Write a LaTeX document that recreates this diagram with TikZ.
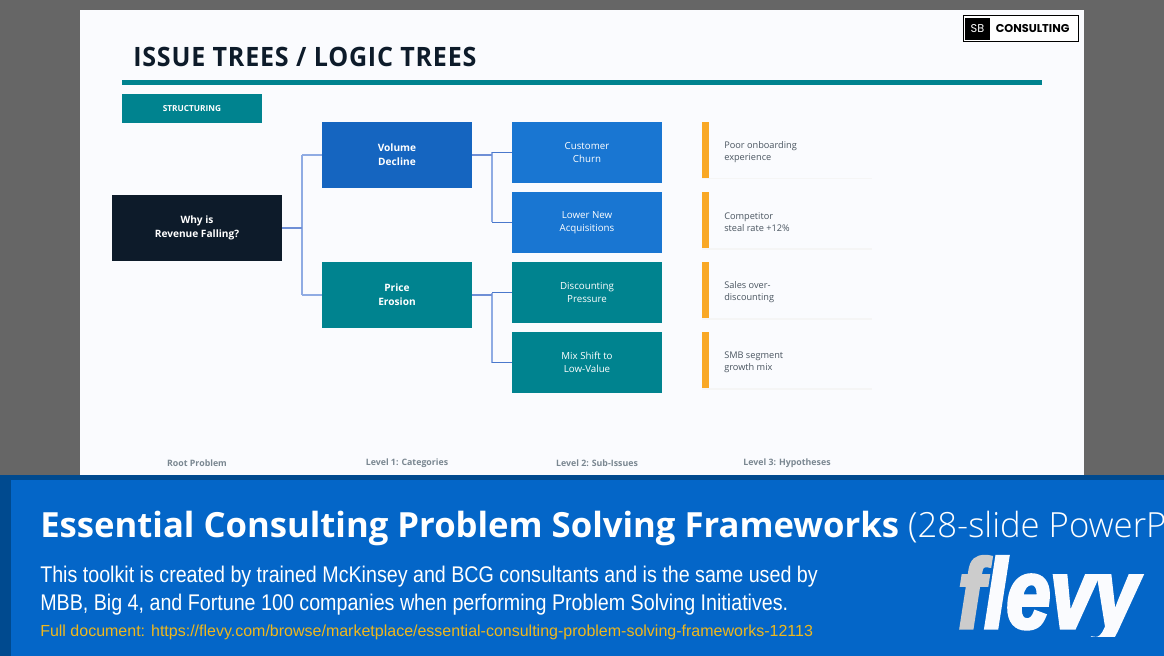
\documentclass[tikz,border=0pt]{standalone}
\usepackage{fontspec}
\setmainfont{Open Sans}
\newfontfamily\lightfont{Open Sans Light}
\newfontfamily\titlefont[FakeStretch=0.94,LetterSpace=3]{Open Sans Bold}
\newfontfamily\bannerfont[FakeStretch=0.868]{Liberation Sans}
\newfontfamily\urlfont{Liberation Sans}
\newfontfamily\logofont[FakeStretch=0.8,FakeBold=3.5]{Liberation Sans Bold Italic}
\newfontfamily\markfont{Poppins}
\definecolor{backgrey}{HTML}{666666}
\definecolor{slidewhite}{HTML}{FAFBFE}
\definecolor{inkdark}{HTML}{0D1B2A}
\definecolor{tealbox}{HTML}{00838F}
\definecolor{volblue}{HTML}{1565C0}
\definecolor{subblue}{HTML}{1976D2}
\definecolor{barorange}{HTML}{F9A825}
\definecolor{cardgrey}{HTML}{4A5560}
\definecolor{footgrey}{HTML}{7A8791}
\definecolor{bannerblue}{HTML}{0466C8}
\definecolor{bannerdark}{HTML}{004A8F}
\definecolor{urlgold}{HTML}{EFB71C}
\definecolor{stubblue}{HTML}{6F8FD6}
\definecolor{spineblue}{HTML}{8FABE3}
\definecolor{branchblue}{HTML}{4A78CC}
\tikzset{
    rootbox/.style={fill=inkdark, text=white, font=\fontsize{7.6}{10.5}\selectfont\bfseries, align=center,
        execute at begin node={\mbox{}\\[-7.5pt]},
        minimum width=127.5pt, minimum height=49.5pt, inner sep=0pt, outer sep=0pt},
    catbox/.style={fill=#1, text=white, font=\fontsize{7.6}{10.5}\selectfont\bfseries, align=center,
        execute at begin node={\mbox{}\\[-9pt]},
        minimum width=112.5pt, minimum height=49.5pt, inner sep=0pt, outer sep=0pt},
    subbox/.style={fill=#1, text=white, font=\fontsize{7.3}{9.75}\selectfont, align=center,
        execute at begin node={\mbox{}\\[-8.25pt]},
        minimum width=112.5pt, minimum height=45.75pt, inner sep=0pt, outer sep=0pt},
    cardbox/.style={fill=slidewhite, minimum width=127.5pt, minimum height=42pt, inner sep=0pt, outer sep=0pt},
    cardshade/.style={fill=black!4, minimum width=127.5pt, minimum height=42pt, inner sep=0pt, outer sep=0pt},
    cardbar/.style={fill=barorange, minimum width=5.25pt, minimum height=42pt, inner sep=0pt, outer sep=0pt},
    cardtext/.style={text=cardgrey, font=\fontsize{6.9}{9}\selectfont, align=left, anchor=west, inner sep=0pt},
    foottext/.style={text=footgrey, font=\fontsize{6.6}{8}\selectfont\bfseries, inner sep=0pt},
    stub/.style={draw=stubblue, line width=1.5pt},
    spine/.style={draw=spineblue, line width=1.1pt},
    branch/.style={draw=branchblue, line width=0.8pt},
}

\begin{document}
\begin{tikzpicture}[x=0.75pt, y=-0.75pt]
    \useasboundingbox (0,0) rectangle (1164,656);
    \fill[backgrey] (0,0) rectangle (1164,656);
    \fill[slidewhite] (80,10) rectangle (1084,475);

    % header
    \node [anchor=west, inner sep=0pt, text=inkdark, font=\titlefont\fontsize{20}{24}\selectfont] (title) at (133,57) {ISSUE TREES / LOGIC TREES};
    \fill[tealbox] (122,80.5) rectangle (1042,85);
    \node [fill=tealbox, text=white, minimum width=105pt, minimum height=21.75pt, inner sep=0pt, font=\fontsize{6.2}{8}\selectfont\bfseries] (tag) at (192,108.5) {STRUCTURING};

    % logo
    \node [draw=black, line width=0.7pt, fill=white, minimum width=86.5pt, minimum height=19.75pt, inner sep=0pt] (logo) at (1021,28.5) {};
    \node [fill=black, text=white, minimum width=18.75pt, minimum height=16.5pt, inner sep=0pt, font=\markfont\fontsize{8.5}{9}\selectfont] (logosb) at (977.5,29) {SB};
    \node [anchor=west, inner sep=0pt, font=\markfont\fontsize{8.5}{9}\selectfont\bfseries] (logotext) at (995.5,29) {CONSULTING};

    % tree
    \node [rootbox] (root) at (197,228) {Why is\\Revenue Falling?};
    \node [catbox=volblue] (vol) at (397,155) {Volume\\Decline};
    \node [catbox=tealbox] (price) at (397,295) {Price\\Erosion};
    \node [subbox=subblue] (churn) at (587,152.5) {Customer\\Churn};
    \node [subbox=subblue] (acq) at (587,222.5) {Lower New\\Acquisitions};
    \node [subbox=tealbox] (disc) at (587,292.5) {Discounting\\Pressure};
    \node [subbox=tealbox] (mix) at (587,362.5) {Mix Shift to\\Low-Value};

    \coordinate (j0) at (302,228);
    \coordinate (j1) at (492,155);
    \coordinate (j2) at (492,295);
    \path[spine] (j0 |- vol.west) -- (j0 |- price.west)
        (j0 |- vol.west) -- (vol.west)
        (j0 |- price.west) -- (price.west);
    \path[stub] (root.east) -- (j0);
    \path[spine] (j1 |- churn.west) -- (j1 |- acq.west)
        (j2 |- disc.west) -- (j2 |- mix.west);
    \path[stub] (vol.east) -- (j1)
        (price.east) -- (j2);
    \path[branch] (j1 |- churn.west) -- (churn.west)
        (j1 |- acq.west) -- (acq.west)
        (j2 |- disc.west) -- (disc.west)
        (j2 |- mix.west) -- (mix.west);

    % hypothesis cards
    \foreach \name/\ypos/\first/\second in {a/150/Poor onboarding/experience, b/220/Competitor/steal rate +12\%, c/290/Sales over-/discounting, d/360/SMB segment/growth mix} {
        \node [cardshade] (shade\name) at (787,\ypos+1.5) {};
        \node [cardbox] (card\name) at (787,\ypos) {};
        \node [cardbar] (bar\name) at (705.5,\ypos) {};
        \node [cardtext] (text\name) at (724,\ypos+2) {\first\\\second};
    }

    % level names
    \node [foottext] (foota) at (197,463) {Root Problem};
    \node [foottext] (footb) at (407,463) {Level 1: Categories};
    \node [foottext] (footc) at (597,463) {Level 2: Sub-Issues};
    \node [foottext] (footd) at (787,463) {Level 3: Hypotheses};

    % banner
    \fill[bannerdark] (0,475) rectangle (1164,656);
    \fill[bannerblue] (11,480) rectangle (1164,656);
    \node [anchor=west, inner sep=0pt, text=white, font=\fontsize{26}{30}\selectfont] (headline) at (40,528) {\textbf{Essential Consulting Problem Solving Frameworks} {\lightfont (28-slide PowerP}};
    \node [anchor=north west, inner sep=0pt, text=white, align=left, font=\bannerfont\fontsize{17}{21}\selectfont] (blurb) at (40,566) {This toolkit is created by trained McKinsey and BCG consultants and is the same used by\\MBB, Big 4, and Fortune 100 companies when performing Problem Solving Initiatives.};
    \node [anchor=west, inner sep=0pt, text=urlgold, font=\urlfont\fontsize{12}{14}\selectfont] (url) at (40,632) {Full document: https://flevy.com/browse/marketplace/essential-consulting-problem-solving-frameworks-12113};
    \begin{scope}
        \clip (940,540) rectangle (1164,636);
        \node [anchor=base west, inner sep=0pt, text=slidewhite, font=\logofont\fontsize{74}{80}\selectfont] (flevy) at (958,628) {\textcolor{black!20}{f}levy};
    \end{scope}
\end{tikzpicture}
\end{document}
